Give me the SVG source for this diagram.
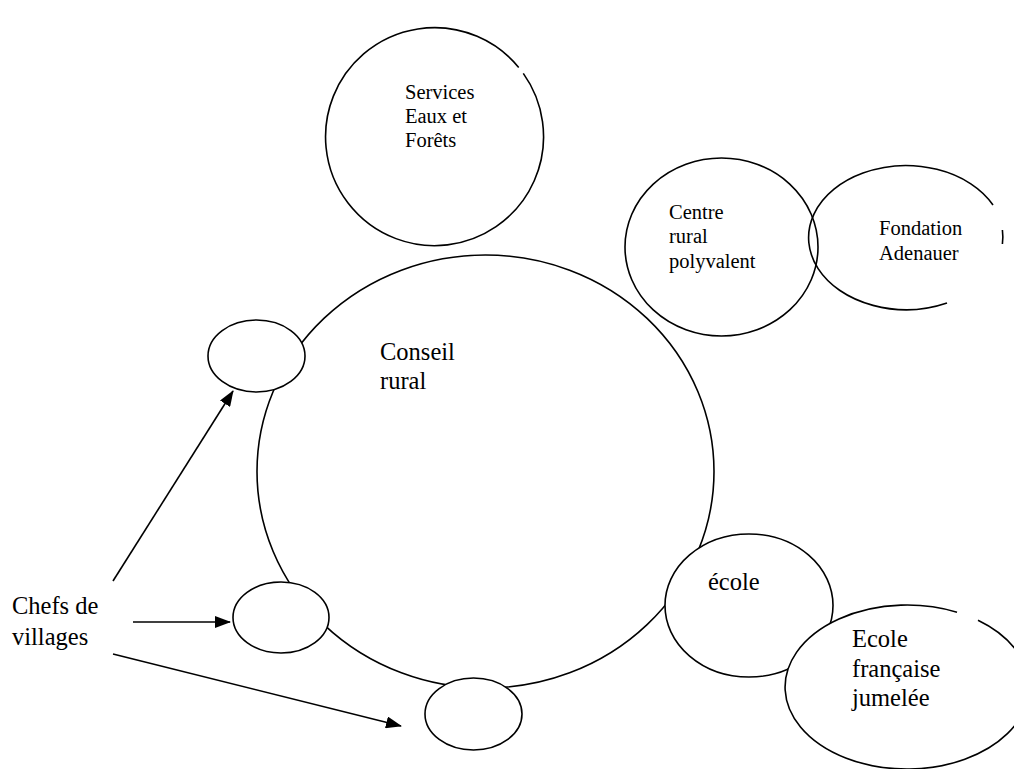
<svg xmlns="http://www.w3.org/2000/svg" width="1014" height="769" viewBox="0 0 1014 769">
<style>
.n{fill:#fff;stroke:#000;stroke-width:1.6}
.f{fill:#fff;stroke:none}
.o{fill:none;stroke:#000;stroke-width:1.6}
.s{font-size:20.5px}
.b{font-size:24.5px}
.c{stroke:#000;stroke-width:1.6;fill:none}
</style>
<defs>
<marker id="ah" markerWidth="16" markerHeight="12" refX="15" refY="6" orient="auto" markerUnits="userSpaceOnUse">
<path d="M0,0 L16,6 L0,12 Z" fill="#000"/>
</marker>
</defs>
<rect width="1014" height="769" fill="#fff"/>
<g font-family="Liberation Serif, Times New Roman, serif" fill="#000">
<g id="services">
<ellipse class="f" cx="434" cy="136" rx="109" ry="109"/>
<path class="o" d="M523.3 73.4 A109 109 0 1 1 518.7 67.4"/>
<text class="s" x="405" y="99">Services</text><text class="s" x="405" y="123">Eaux et</text><text class="s" x="405" y="147">Forêts</text></g>
<g id="centre"><ellipse class="n" cx="721.5" cy="247" rx="96.5" ry="89"/>
<text class="s" x="669" y="219">Centre</text><text class="s" x="669" y="243">rural</text><text class="s" x="669" y="268">polyvalent</text></g>
<g id="fondation">
<path class="o" d="M947 303 A97.5 72 0 1 1 993 205"/>
<path class="o" d="M1002.4 230 A97.5 72 0 0 1 1002.4 244"/>
<text class="s" x="879" y="235">Fondation</text><text class="s" x="879" y="260">Adenauer</text></g>
<g id="conseil"><ellipse class="n" cx="485.5" cy="471.5" rx="228.5" ry="216.5"/>
<text class="b" x="380" y="360">Conseil</text><text class="b" x="380" y="389">rural</text></g>
<g id="ecole"><ellipse class="n" cx="749" cy="605.5" rx="84" ry="71.5"/>
<text class="b" x="708" y="590">école</text></g>
<g id="ecole-francaise">
<ellipse class="f" cx="907" cy="687" rx="122" ry="82"/>
<path class="o" d="M978 620.3 A122 82 0 1 1 957 612.2"/>
<text class="b" x="852" y="647">Ecole</text><text class="b" x="852" y="677">française</text><text class="b" x="852" y="706">jumelée</text></g>
<g id="village1"><ellipse class="n" cx="256.5" cy="356" rx="48.5" ry="36"/></g>
<g id="village2"><ellipse class="n" cx="281" cy="617.5" rx="48" ry="35.5"/></g>
<g id="village3"><ellipse class="n" cx="473.5" cy="714" rx="48.5" ry="36"/></g>
<g id="chefs"><text class="b" x="12" y="614">Chefs de</text><text class="b" x="12" y="645">villages</text></g>
</g>
<g id="connectors">
<line class="c" x1="113" y1="581" x2="233" y2="391" marker-end="url(#ah)"/>
<line class="c" x1="133" y1="622" x2="230" y2="622" marker-end="url(#ah)"/>
<line class="c" x1="113" y1="654" x2="401" y2="726" marker-end="url(#ah)"/>
</g>
</svg>
